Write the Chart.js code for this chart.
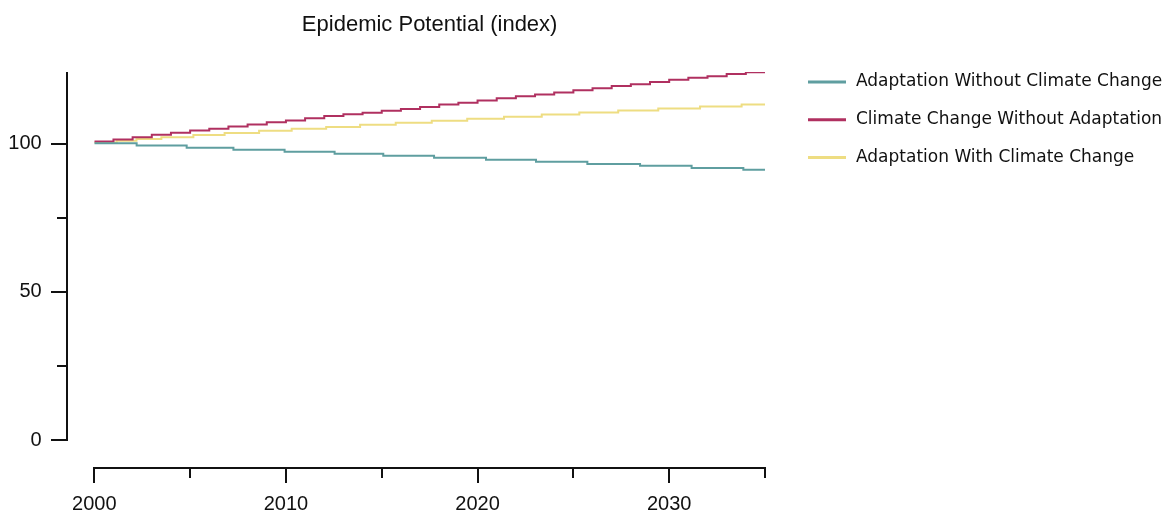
<!DOCTYPE html>
<html><head><meta charset="utf-8">
<script src="https://cdn.jsdelivr.net/npm/chart.js@4/dist/chart.umd.min.js"></script>
<style>html,body{margin:0;padding:0;background:#fff;overflow:hidden}</style>
</head><body>
<canvas id="c" width="1173" height="515"></canvas>
<script>
const chartTitle = 'Epidemic Potential (index)';
const seriesNames = ['Adaptation Without Climate Change', 'Climate Change Without Adaptation', 'Adaptation With Climate Change'];
const seriesColors = ['#5F9EA0', '#B03060', '#EEDD82'];

// step-change points (year, index value)
const tealYears  = [2000, 2002.21, 2004.82, 2007.26, 2009.93, 2012.54, 2015.08, 2017.73, 2020.44, 2023.05, 2025.73, 2028.48, 2031.17, 2033.87, 2035];
const tealValues = [100.25, 99.5, 98.75, 98.05, 97.35, 96.7, 96.05, 95.3, 94.7, 94.0, 93.25, 92.6, 91.9, 91.25, 91.25];

const redYears  = [2000, 2001, 2002, 2003, 2004, 2005, 2006, 2007, 2008, 2009, 2010, 2011, 2012, 2013, 2014, 2015, 2016, 2017, 2018, 2019, 2020, 2021, 2022, 2023, 2024, 2025, 2026, 2027, 2028, 2029, 2030, 2031, 2032, 2033, 2034, 2035];
const redValues = [100.8, 101.5, 102.3, 103.1, 103.8, 104.5, 105.1, 105.9, 106.6, 107.3, 107.9, 108.7, 109.4, 110.0, 110.5, 111.2, 111.8, 112.5, 113.3, 113.9, 114.7, 115.4, 116.1, 116.7, 117.4, 118.1, 118.8, 119.6, 120.2, 120.9, 121.7, 122.4, 122.9, 123.6, 124.2, 124.2];

const yellowYears  = [2000, 2001.17, 2002.2, 2003.5, 2005.17, 2006.8, 2008.6, 2010.3, 2012.1, 2013.87, 2015.73, 2017.61, 2019.46, 2021.38, 2023.35, 2025.31, 2027.34, 2029.43, 2031.61, 2033.78, 2035];
const yellowValues = [100.5, 101.1, 101.65, 102.3, 103.0, 103.7, 104.45, 105.1, 105.75, 106.45, 107.15, 107.8, 108.5, 109.15, 109.95, 110.6, 111.3, 111.95, 112.65, 113.3, 113.3];

const xTickValues = [2000, 2005, 2010, 2015, 2020, 2025, 2030, 2035];
const xTickLabels = ['2000', '', '2010', '', '2020', '', '2030', ''];
const yTickValues = [0, 25, 50, 75, 100];
const yTickLabels = ['0', '', '50', '', '100'];
const yMax = 124.3;

const tickFont = "'Liberation Sans Narrow', 'Arial Narrow', 'Liberation Sans', Arial, sans-serif";

function pts(xs, ys) { return xs.map((x, i) => ({x: x, y: ys[i]})); }

const detachedAxes = {
  id: 'detachedAxes',
  afterDraw(chart) {
    const {ctx, chartArea: a, scales: {x, y}} = chart;
    const gap = 27.5;
    ctx.save();
    ctx.strokeStyle = '#111';
    ctx.lineWidth = 2;
    const ax = Math.round(a.left - gap);
    const ay = Math.round(a.bottom + gap);
    ctx.beginPath();
    ctx.moveTo(ax, y.getPixelForValue(yMax));
    ctx.lineTo(ax, y.getPixelForValue(0) + 1);
    yTickValues.forEach((v, i) => {
      const py = Math.round(y.getPixelForValue(v));
      const len = yTickLabels[i] ? 16 : 10;
      ctx.moveTo(ax - len, py); ctx.lineTo(ax + 1, py);
    });
    ctx.moveTo(x.getPixelForValue(xTickValues[0]) - 1, ay);
    ctx.lineTo(x.getPixelForValue(xTickValues[xTickValues.length - 1]) + 1, ay);
    xTickValues.forEach((v, i) => {
      const px = Math.round(x.getPixelForValue(v));
      const len = xTickLabels[i] ? 15 : 10;
      ctx.moveTo(px, ay - 1); ctx.lineTo(px, ay + len);
    });
    ctx.stroke();
    ctx.restore();
  }
};

const sideLegend = {
  id: 'sideLegend',
  afterDraw(chart) {
    const {ctx, chartArea: a} = chart;
    ctx.save();
    ctx.font = "17px 'DejaVu Sans', sans-serif";
    ctx.textBaseline = 'middle';
    ctx.textAlign = 'left';
    chart.data.datasets.forEach((ds, i) => {
      const cy = 82 + i * 37.8;
      const x0 = a.right + 43;
      ctx.strokeStyle = ds.borderColor;
      ctx.lineWidth = 3;
      ctx.beginPath();
      ctx.moveTo(x0, cy); ctx.lineTo(x0 + 38, cy);
      ctx.stroke();
      ctx.fillStyle = '#111';
      ctx.fillText(ds.label, x0 + 48, cy);
    });
    ctx.restore();
  }
};

const seriesPoints = [pts(tealYears, tealValues), pts(redYears, redValues), pts(yellowYears, yellowValues)];

new Chart(document.getElementById('c'), {
  type: 'line',
  data: {
    datasets: seriesNames.map((name, i) => ({
      label: name,
      data: seriesPoints[i],
      borderColor: seriesColors[i],
      backgroundColor: seriesColors[i],
      borderWidth: 2,
      pointRadius: 0,
      stepped: true,
      fill: false
    }))
  },
  options: {
    responsive: false,
    devicePixelRatio: 1,
    animation: false,
    events: [],
    layout: {padding: {left: 0, right: 408, top: 0, bottom: 0}},
    plugins: {
      legend: {display: false},
      tooltip: {enabled: false},
      title: {
        display: true,
        text: chartTitle,
        fullSize: false,
        color: '#111',
        font: {family: "'Liberation Sans', Arial, sans-serif", size: 22, weight: 'normal', lineHeight: 1.2},
        padding: {top: 11.8, bottom: 33.8}
      }
    },
    scales: {
      x: {
        type: 'linear',
        min: xTickValues[0],
        max: xTickValues[xTickValues.length - 1],
        afterBuildTicks: s => { s.ticks = xTickValues.map(v => ({value: v})); },
        afterFit: s => { s.height = 75; },
        grid: {display: false, drawTicks: false},
        border: {display: false},
        ticks: {
          autoSkip: false, maxRotation: 0, padding: 52, color: '#111',
          font: {family: tickFont, size: 20, lineHeight: 1.2},
          callback: (v, i) => xTickLabels[i]
        }
      },
      y: {
        type: 'linear',
        min: 0,
        max: yMax,
        afterBuildTicks: s => { s.ticks = yTickValues.map(v => ({value: v})); },
        afterFit: s => { s.width = 94.3; },
        grid: {display: false, drawTicks: false},
        border: {display: false},
        ticks: {
          autoSkip: false, padding: 52.6, color: '#111',
          font: {family: tickFont, size: 20, lineHeight: 1.2},
          callback: (v, i) => yTickLabels[i]
        }
      }
    }
  },
  plugins: [detachedAxes, sideLegend]
});
</script>
</body></html>
